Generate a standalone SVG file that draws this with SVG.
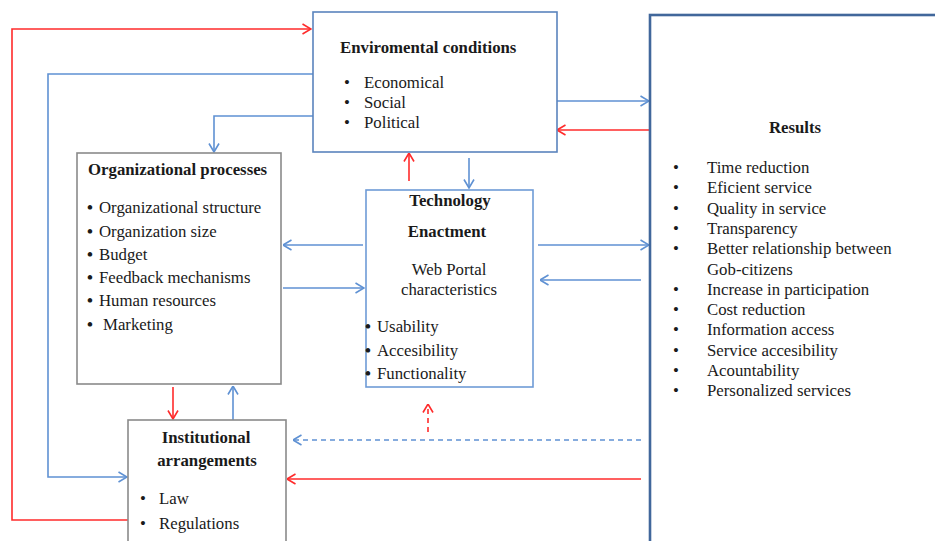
<svg xmlns="http://www.w3.org/2000/svg" width="935" height="541" viewBox="0 0 935 541">
  <style>
    text { font-family: "Liberation Serif", "Times New Roman", serif; font-size: 16.8px; fill: #1a1a1a; }
    .b { font-weight: bold; }
    .c { text-anchor: middle; }
    .dot { font-weight: bold; }
    .box { fill: #ffffff; }
    .blue { fill: none; stroke: #5f91d3; stroke-width: 1.6; }
    .red { fill: none; stroke: #ff2b2b; stroke-width: 1.6; }
    .dash { stroke-dasharray: 5 4; }
  </style>
  <defs>
    <marker id="ab" viewBox="0 0 10 12" refX="9.5" refY="6" markerWidth="10" markerHeight="12" markerUnits="userSpaceOnUse" orient="auto">
      <path d="M1,1 L9.5,6 L1,11" fill="none" stroke="#5f91d3" stroke-width="1.6"/>
    </marker>
    <marker id="ar" viewBox="0 0 10 12" refX="9.5" refY="6" markerWidth="10" markerHeight="12" markerUnits="userSpaceOnUse" orient="auto">
      <path d="M1,1 L9.5,6 L1,11" fill="none" stroke="#ff2b2b" stroke-width="1.6"/>
    </marker>
  </defs>
  <rect width="935" height="541" fill="#ffffff"/>

  <!-- connectors -->
  <g id="connectors">
    <path class="red" d="M128,520 H12 V29 H311" marker-end="url(#ar)"/>
    <path class="blue" d="M313,74 H48 V477 H127" marker-end="url(#ab)"/>
    <path class="blue" d="M313,116 H214 V152" marker-end="url(#ab)"/>
    <path class="blue" d="M557,101 H649" marker-end="url(#ab)"/>
    <path class="red" d="M650,130 H557" marker-end="url(#ar)"/>
    <path class="red" d="M409,181 V153" marker-end="url(#ar)"/>
    <path class="blue" d="M469,158 V188" marker-end="url(#ab)"/>
    <path class="blue" d="M363,245 H283" marker-end="url(#ab)"/>
    <path class="blue" d="M283,288 H364" marker-end="url(#ab)"/>
    <path class="blue" d="M538,245 H649" marker-end="url(#ab)"/>
    <path class="blue" d="M641,280 H540" marker-end="url(#ab)"/>
    <path class="red" d="M173,387 V419" marker-end="url(#ar)"/>
    <path class="blue" d="M233,420 V386" marker-end="url(#ab)"/>
    <path class="red dash" d="M428,432 V404" marker-end="url(#ar)"/>
    <path class="blue dash" d="M641,440 H293" marker-end="url(#ab)"/>
    <path class="red" d="M641,479 H287" marker-end="url(#ar)"/>
  </g>

  <!-- environmental conditions -->
  <g id="environment">
    <rect class="box" x="313" y="12" width="244" height="140" stroke="#5a84bd" stroke-width="1.6"/>
    <text class="b" x="340" y="53">Enviromental conditions</text>
    <text x="344" y="88">•</text><text x="364" y="88">Economical</text>
    <text x="344" y="108">•</text><text x="364" y="108">Social</text>
    <text x="344" y="128">•</text><text x="364" y="128">Political</text>
  </g>

  <!-- results -->
  <g id="results">
    <rect class="box" x="650" y="15" width="300" height="540" stroke="#41679b" stroke-width="2.6"/>
    <text class="b c" x="795" y="133">Results</text>
    <g>
      <text x="673" y="173">•</text><text x="707" y="173">Time reduction</text>
      <text x="673" y="193">•</text><text x="707" y="193">Eficient service</text>
      <text x="673" y="214">•</text><text x="707" y="214">Quality in service</text>
      <text x="673" y="234">•</text><text x="707" y="234">Transparency</text>
      <text x="673" y="254">•</text><text x="707" y="254">Better relationship between</text>
      <text x="707" y="275">Gob-citizens</text>
      <text x="673" y="295">•</text><text x="707" y="295">Increase in participation</text>
      <text x="673" y="315">•</text><text x="707" y="315">Cost reduction</text>
      <text x="673" y="335">•</text><text x="707" y="335">Information access</text>
      <text x="673" y="356">•</text><text x="707" y="356">Service accesibility</text>
      <text x="673" y="376">•</text><text x="707" y="376">Acountability</text>
      <text x="673" y="396">•</text><text x="707" y="396">Personalized services</text>
    </g>
  </g>

  <!-- organizational processes -->
  <g id="organizational">
    <rect class="box" x="77" y="153" width="204" height="231" stroke="#8a8a8a" stroke-width="1.6"/>
    <text class="b" x="88" y="175">Organizational processes</text>
    <text class="dot" x="87" y="213">•</text><text x="99" y="213">Organizational structure</text>
    <text class="dot" x="87" y="237">•</text><text x="99" y="237">Organization size</text>
    <text class="dot" x="87" y="260">•</text><text x="99" y="260">Budget</text>
    <text class="dot" x="87" y="283">•</text><text x="99" y="283">Feedback mechanisms</text>
    <text class="dot" x="87" y="306">•</text><text x="99" y="306">Human resources</text>
    <text class="dot" x="87" y="330">•</text><text x="103" y="330">Marketing</text>
  </g>

  <!-- technology enactment -->
  <g id="technology">
    <rect class="box" x="366" y="190" width="167" height="197" stroke="#6e9bd6" stroke-width="1.6"/>
    <text class="b c" x="450" y="206">Technology</text>
    <text class="b c" x="447" y="237">Enactment</text>
    <text class="c" x="449" y="275">Web Portal</text>
    <text class="c" x="449" y="295">characteristics</text>
    <text class="dot" x="365" y="332">•</text><text x="377" y="332">Usability</text>
    <text class="dot" x="365" y="356">•</text><text x="377" y="356">Accesibility</text>
    <text class="dot" x="365" y="379">•</text><text x="377" y="379">Functionality</text>
  </g>

  <!-- institutional arrangements -->
  <g id="institutional">
    <rect class="box" x="128" y="420" width="158" height="140" stroke="#8a8a8a" stroke-width="1.6"/>
    <text class="b c" x="206" y="443">Institutional</text>
    <text class="b c" x="207" y="466">arrangements</text>
    <text x="140" y="504">•</text><text x="159" y="504">Law</text>
    <text x="140" y="529">•</text><text x="159" y="529">Regulations</text>
  </g>
</svg>
